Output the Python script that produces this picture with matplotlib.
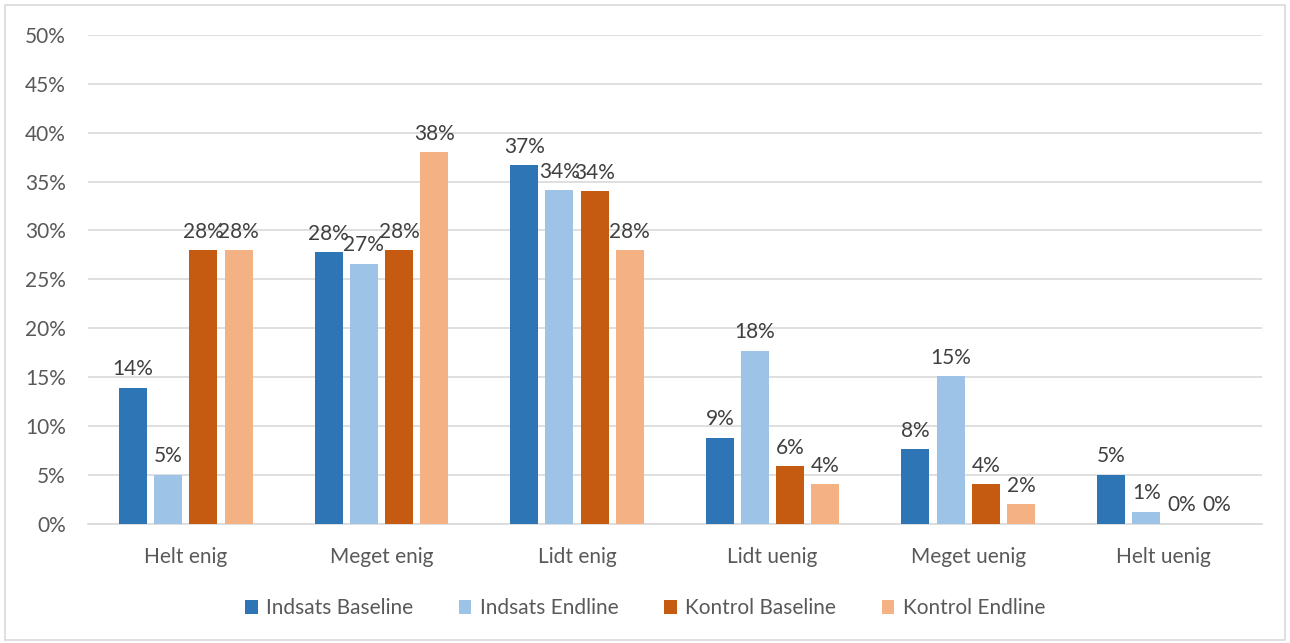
import matplotlib
matplotlib.use("Agg")
import matplotlib.pyplot as plt
import numpy as np
from matplotlib.patches import Rectangle

categories = ["Helt enig", "Meget enig", "Lidt enig", "Lidt uenig", "Meget uenig", "Helt uenig"]
series_names = ["Indsats Baseline", "Indsats Endline", "Kontrol Baseline", "Kontrol Endline"]
indsats_baseline = [13.9, 27.8, 36.7, 8.8, 7.6, 5.0]
indsats_endline = [5.0, 26.6, 34.1, 17.7, 15.1, 1.2]
kontrol_baseline = [28.0, 28.0, 34.0, 5.9, 4.0, 0.0]
kontrol_endline = [28.0, 38.0, 28.0, 4.0, 2.0, 0.0]
yticks = [0, 5, 10, 15, 20, 25, 30, 35, 40, 45, 50]

colors = ["#2E75B6", "#9DC3E6", "#C55A11", "#F4B183"]
text_color = "#595959"
label_color = "#404040"
grid_color = "#D9D9D9"
fs = 15

plt.rcParams["font.family"] = ["Lato", "DejaVu Sans"]

fig = plt.figure(figsize=(12.9, 6.43), dpi=100)
ax = fig.add_axes([0.0682, 0.1858, 0.9098, 0.7598])

series = [indsats_baseline, indsats_endline, kontrol_baseline, kontrol_endline]
x = np.arange(len(categories))
width = 0.143
offsets = [-0.27, -0.09, 0.09, 0.27]

for vals, off, col, name in zip(series, offsets, colors, series_names):
    bars = ax.bar(x + off, vals, width=width, color=col, label=name, zorder=3)
    for b, v in zip(bars, vals):
        ax.annotate(f"{v:.0f}%", (b.get_x() + b.get_width() / 2, v),
                    xytext=(0, 6), textcoords="offset points",
                    ha="center", va="bottom", fontsize=fs, color=label_color)

ax.set_xlim(-0.5, len(categories) - 0.5)
ax.set_ylim(0, 50)
ax.set_yticks(yticks)
ax.set_yticklabels([f"{t}%" for t in yticks])
ax.set_xticks(x)
ax.set_xticklabels(categories)
ax.tick_params(axis="y", length=0, pad=16, labelsize=fs, labelcolor=text_color)
ax.tick_params(axis="x", length=0, pad=17, labelsize=fs, labelcolor=text_color)
ax.yaxis.grid(True, color=grid_color, linewidth=1.2, zorder=0)
for side in ["left", "right", "top"]:
    ax.spines[side].set_visible(False)
ax.spines["bottom"].set_color(grid_color)
ax.spines["bottom"].set_linewidth(1.2)

fig.legend(loc="center", bbox_to_anchor=(0.5, 0.054), ncol=4, frameon=False,
           fontsize=fs, handlelength=0.6, handleheight=0.6, handletextpad=0.4,
           columnspacing=2.2, labelcolor=text_color)

fig.patches.append(Rectangle((0.004, 0.004), 0.992, 0.988, transform=fig.transFigure,
                             fill=False, edgecolor=grid_color, linewidth=1.2))

fig.savefig("out.png", dpi=100, facecolor="white")
